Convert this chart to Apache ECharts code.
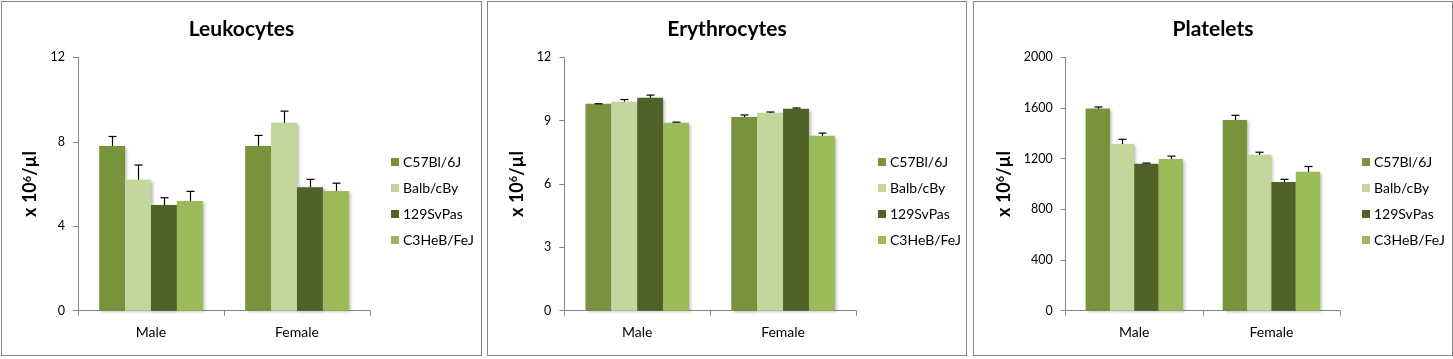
<!DOCTYPE html>
<html><head><meta charset="utf-8">
<script src="https://cdn.jsdelivr.net/npm/echarts@6/dist/echarts.min.js"></script>
<style>
html,body{margin:0;padding:0;background:#fff;width:1453px;height:359px;overflow:hidden;}
.panel{position:absolute;top:1px;height:355px;border:1px solid #868686;background:#fff;box-sizing:border-box;}
</style></head>
<body>
<div id="p1" class="panel" style="left:1px;width:481px;"></div>
<div id="p2" class="panel" style="left:487px;width:480px;"></div>
<div id="p3" class="panel" style="left:973px;width:480px;"></div>
<script>
// ---- data ----
const categories = ['Male', 'Female'];
const strains = ['C57Bl/6J', 'Balb/cBy', '129SvPas', 'C3HeB/FeJ'];
const colors = ['#77933C', '#C3D69B', '#4F6228', '#9BBB59'];
const titles = ['Leukocytes', 'Erythrocytes', 'Platelets'];
const yAxisName = '{a|x 10}{s|6}{a|/\u00b5l}';

// mean values per strain, [Male, Female]
const leukoMeans = [[7.8, 7.8], [6.2, 8.9], [5.0, 5.85], [5.2, 5.67]];
const leukoErrs  = [[0.45, 0.5], [0.7, 0.55], [0.35, 0.37], [0.45, 0.37]];
const eryMeans   = [[9.8, 9.17], [9.9, 9.37], [10.08, 9.56], [8.9, 8.28]];
const eryErrs    = [[0.0, 0.1], [0.1, 0.04], [0.13, 0.04], [0.03, 0.13]];
const pltMeans   = [[1595, 1505], [1316, 1230], [1160, 1016], [1198, 1096]];
const pltErrs    = [[13, 37], [37, 21], [5, 21], [22, 42]];

const yTicks = [[0, 12, 4], [0, 12, 3], [0, 2000, 400]]; // min, max, interval

const FONT = 'Lato, "Open Sans", sans-serif';
const GAP = 0.29;

function errRender(si, n) {
  return function (params, api) {
    const cat = api.value(0), mean = api.value(1), err = api.value(2);
    const c = api.coord([cat, mean]);
    const t = api.coord([cat, mean + err]);
    const catW = api.size([1, 0])[0];
    const groupW = catW * (1 - GAP);
    const bw = groupW / n;
    const x = Math.round(c[0] - groupW / 2 + (si + 0.5) * bw) + 0.5;
    const st = {stroke: '#000', lineWidth: 1.2};
    return {type: 'group', children: [
      {type: 'line', shape: {x1: x, y1: c[1], x2: x, y2: t[1]}, style: st},
      {type: 'line', shape: {x1: x - 4, y1: t[1], x2: x + 4, y2: t[1]}, style: st}
    ]};
  };
}

function makeOption(idx, means, errs, gridLeft, gridWidth, nameGap, legendLeft) {
  const series = [];
  strains.forEach((s, i) => {
    series.push({
      name: s, type: 'bar', barGap: '0%', barCategoryGap: (GAP * 100) + '%',
      data: means[i],
      itemStyle: {color: colors[i], shadowColor: 'rgba(0,0,0,0.28)', shadowBlur: 3, shadowOffsetX: 2, shadowOffsetY: 1},
      z: 2
    });
  });
  strains.forEach((s, i) => {
    series.push({
      type: 'custom', renderItem: errRender(i, strains.length), z: 3,
      data: means[i].map((m, j) => [j, m, errs[i][j]]),
      encode: {x: 0, y: 1}
    });
  });
  return {
    animation: false,
    textStyle: {fontFamily: FONT},
    title: {text: titles[idx], left: 'center', top: 12,
      textStyle: {fontFamily: FONT, fontWeight: 'bold', fontSize: 21, color: '#000'}},
    legend: {
      data: strains, orient: 'vertical', left: legendLeft, top: 148,
      icon: 'rect', itemWidth: 8, itemHeight: 8, itemGap: 12,
      textStyle: {fontFamily: FONT, fontSize: 14, color: '#000', padding: [0, 0, 0, -1]}
    },
    grid: {left: gridLeft, width: gridWidth, top: 55.3, height: 253.4},
    xAxis: {
      type: 'category', data: categories,
      axisLine: {lineStyle: {color: '#868686'}},
      axisTick: {show: true, length: 5, lineStyle: {color: '#868686'}},
      axisLabel: {color: '#000', fontSize: 14, margin: 15, fontFamily: FONT}
    },
    yAxis: {
      type: 'value', min: yTicks[idx][0], max: yTicks[idx][1], interval: yTicks[idx][2],
      name: yAxisName, nameLocation: 'middle', nameGap: nameGap,
      nameTextStyle: {fontFamily: FONT, fontWeight: 'bold', fontSize: 18, color: '#000',
        rich: {
          a: {fontFamily: FONT, fontWeight: 'bold', fontSize: 18, color: '#000'},
          s: {fontFamily: FONT, fontWeight: 'bold', fontSize: 11, color: '#000', padding: [0, 0, 7, 0]}
        }},
      axisLine: {show: true, lineStyle: {color: '#868686'}},
      axisTick: {show: true, length: 5, lineStyle: {color: '#868686'}},
      splitLine: {show: false},
      axisLabel: {color: '#000', fontSize: 12.5, margin: 13, fontFamily: FONT,
        formatter: function (v) { return String(v); }}
    },
    series: series
  };
}

const c1 = echarts.init(document.getElementById('p1'));
c1.setOption(makeOption(0, leukoMeans, leukoErrs, 76, 292, 35, 384));
const c2 = echarts.init(document.getElementById('p2'));
c2.setOption(makeOption(1, eryMeans, eryErrs, 76.3, 291.7, 35, 385));
const c3 = echarts.init(document.getElementById('p3'));
c3.setOption(makeOption(2, pltMeans, pltErrs, 91.7, 274.3, 52, 383));
</script>
</body></html>
